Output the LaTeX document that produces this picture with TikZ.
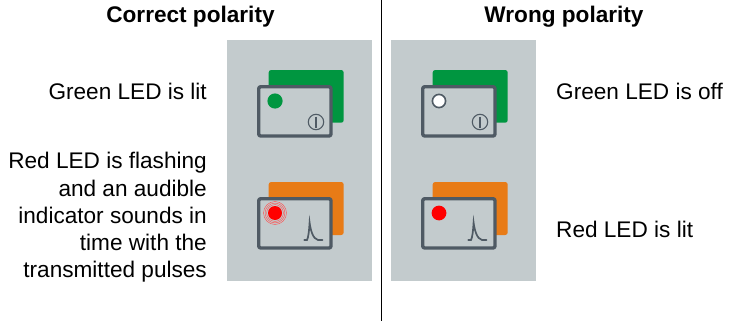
\documentclass[tikz,border=0pt]{standalone}
\usepackage{fontspec}
\setmainfont{Liberation Sans}
\definecolor{panelgrey}{HTML}{C3CBCD}
\definecolor{framegrey}{HTML}{4F5A64}
\definecolor{cardgreen}{HTML}{009640}
\definecolor{cardorange}{HTML}{E87B16}
\tikzset{
  x=1pt,y=-1pt,
  panel/.style={fill=panelgrey,draw=none},
  backcard/.style={draw=none,rounded corners=2.5pt},
  frontcard/.style={fill=panelgrey,draw=framegrey,line width=3.4pt,rounded corners=2pt,line join=round},
  glyph/.style={draw=framegrey,line width=1.1pt},
  pulseline/.style={draw=framegrey,line width=1.7pt,line cap=round},
  ring/.style={draw=red!70!white,line width=.4pt},
  lbl/.style={font=\fontsize{22.6}{27.3}\selectfont,inner sep=0pt},
  lblR/.style={lbl,align=right,anchor=east},
  lblL/.style={lbl,align=left,anchor=west},
  heading/.style={font=\fontsize{22.6}{27}\selectfont\bfseries,inner sep=0pt},
  divider/.style={draw=black,line width=1pt}
}
\newcommand{\cardtop}[3]{% x offset, y offset, LED style
  \fill[backcard,cardgreen] (#1+268.7,#2+70) rectangle (#1+343.7,#2+122.7);
  \draw[frontcard] (#1+258.7,#2+86.7) rectangle (#1+331,#2+136);
  #3
  \draw[glyph] (#1+316,#2+122) circle (7.7);
  \draw[glyph] (#1+316,#2+116.5) -- (#1+316,#2+127.5);
}
\newcommand{\cardbottom}[3]{%
  \fill[backcard,cardorange] (#1+268.7,#2+182) rectangle (#1+343.7,#2+235);
  \draw[frontcard] (#1+258.7,#2+198.7) rectangle (#1+331,#2+248);
  #3
  \draw[pulseline] (#1+304.3,#2+240) -- (#1+307,#2+240)
     .. controls (#1+308.3,#2+238) and (#1+309.2,#2+230) .. (#1+309.6,#2+222.6)
     .. controls (#1+310.5,#2+230) and (#1+313,#2+239) .. (#1+318,#2+240)
     -- (#1+322.5,#2+240);
}
\begin{document}
\begin{tikzpicture}
\useasboundingbox (0,0) rectangle (730,321);
\fill[white] (0,0) rectangle (730,321);
\draw[divider] (381,0) coordinate (divtop) -- (381,321) coordinate (divbot);
\fill[panel] (227,40) rectangle (372,281);
\fill[panel] (391,40) rectangle (536,281);
\cardtop{0}{0}{\fill[cardgreen] (275,101) circle (7.6);}
\cardbottom{0}{0}{%
  \draw[ring] (275,213) circle (11.5);
  \draw[ring] (275,213) circle (9.9);
  \draw[ring] (275,213) circle (8.4);
  \fill[red] (275,213) circle (7);}
\cardtop{164}{0}{\draw[fill=white,draw=framegrey,line width=1.6pt] (439,101) circle (6.6);}
\cardbottom{164}{0}{\fill[red] (439,213) circle (7.4);}
\node[heading] (hl) at (190.5,17) {Correct polarity};
\node[heading] (hr) at (564,17) {Wrong polarity};
\node[lblR] (a) at (207,91) {Green LED is lit};
\node[lblR] (b) at (207,217.5) {Red LED is flashing\\and an audible\\indicator sounds in\\time with the\\transmitted pulses};
\node[lblL] (c) at (556,91) {Green LED is off};
\node[lblL] (d) at (556,229) {Red LED is lit};
\end{tikzpicture}
\end{document}
